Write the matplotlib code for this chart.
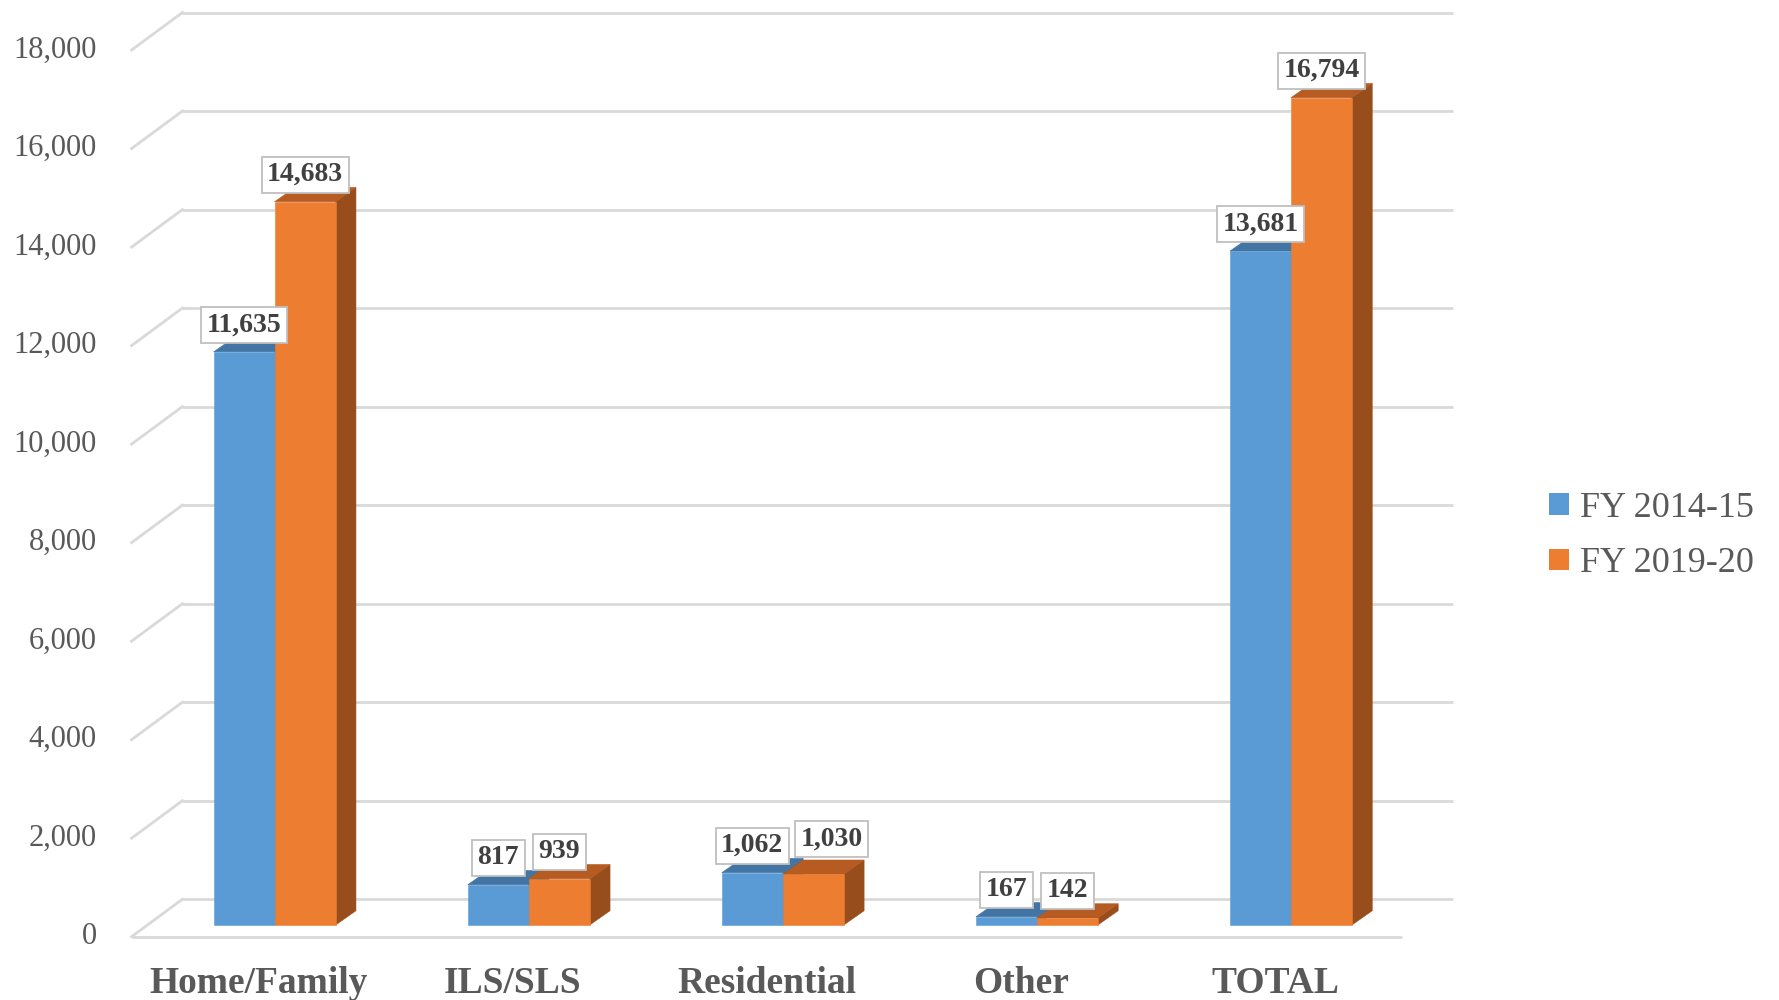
import matplotlib.pyplot as plt
from matplotlib.patches import Patch, Polygon

categories = ["Home/Family", "ILS/SLS", "Residential", "Other", "TOTAL"]
fy_2014_15 = [11635, 817, 1062, 167, 13681]
fy_2019_20 = [14683, 939, 1030, 142, 16794]
series_names = ["FY 2014-15", "FY 2019-20"]
y_ticks = list(range(0, 18001, 2000))

FRONT = ["#5B9BD5", "#ED7D31"]
TOP = ["#4275A3", "#B65C22"]
SIDE = ["#3D6C96", "#984D1C"]
GRID = "#D9D9D9"
TEXT = "#595959"
LABEL = "#404040"

# fake 3d: the floor goes back up-right, bars sit a bit behind the front edge
FLOOR_DX, FLOOR_DY = 0.2, 761
BAR_DX, BAR_DY = 0.063, 237
DEPTH_DX, DEPTH_DY = 0.08, 290
BAR_W = 0.24
LABEL_GAP = 550

plt.rcParams["font.family"] = ["Liberation Serif", "DejaVu Serif"]


def _bar3d(ax, x0, value, idx):
    x1 = x0 + BAR_W
    y0 = BAR_DY
    y1 = BAR_DY + value
    front = [(x0, y0), (x1, y0), (x1, y1), (x0, y1)]
    top = [(x0, y1), (x1, y1), (x1 + DEPTH_DX, y1 + DEPTH_DY), (x0 + DEPTH_DX, y1 + DEPTH_DY)]
    side = [(x1, y0), (x1 + DEPTH_DX, y0 + DEPTH_DY), (x1 + DEPTH_DX, y1 + DEPTH_DY), (x1, y1)]
    for pts, color in ((side, SIDE[idx]), (top, TOP[idx]), (front, FRONT[idx])):
        ax.add_patch(Polygon(pts, closed=True, facecolor=color, edgecolor=color, lw=0.4, zorder=2 + idx))
    return ax.text(
        x0 + BAR_W / 2,
        y1 + LABEL_GAP,
        f"{value:,}",
        ha="center",
        va="center",
        fontsize=20,
        fontweight="bold",
        color=LABEL,
        zorder=6,
        bbox=dict(boxstyle="square,pad=0.2", facecolor="white", edgecolor="#BFBFBF", linewidth=1.3),
    )


fig = plt.figure(figsize=(17.79, 10), dpi=100)
ax = fig.add_axes([0, 0, 1, 1])
ax.set_xlim(-1.018, 5.984)
ax.set_ylim(-1285, 19015)
ax.axis("off")

n = len(categories)
left, right = -0.5, n - 0.5

# walls: back gridlines plus the left diagonals, front floor edge
for v in y_ticks:
    ax.plot([left + FLOOR_DX, right + FLOOR_DX], [v + FLOOR_DY, v + FLOOR_DY], color=GRID, lw=2, zorder=1, solid_capstyle="butt")
    ax.plot([left, left + FLOOR_DX], [v, v + FLOOR_DY], color=GRID, lw=2, zorder=1)
    ax.text(left - 0.137, v, f"{v:,}", ha="right", va="center", fontsize=22, color=TEXT)
ax.plot([left, right], [0, 0], color=GRID, lw=2, zorder=1, solid_capstyle="butt")

label_pairs = []
for i, cat in enumerate(categories):
    a = _bar3d(ax, i + BAR_DX - BAR_W, fy_2014_15[i], 0)
    b = _bar3d(ax, i + BAR_DX, fy_2019_20[i], 1)
    label_pairs.append((a, b))
    ax.text(i, -1140, cat, ha="center", va="baseline", fontsize=27, fontweight="bold", color=TEXT)

# nudge a value box right/up when it runs into its neighbour (like Excel does)
fig.canvas.draw()
renderer = fig.canvas.get_renderer()
for a, b in label_pairs:
    ba = a.get_bbox_patch().get_window_extent(renderer)
    bb = b.get_bbox_patch().get_window_extent(renderer)
    overlap_x = ba.x1 - bb.x0
    overlap_y = min(ba.y1, bb.y1) - max(ba.y0, bb.y0)
    if overlap_x > -4 and overlap_y > 0:
        px, py = ax.transData.transform(b.get_position())
        b.set_position(ax.transData.inverted().transform((px + overlap_x + 6, py + 8)))

handles = [Patch(facecolor=FRONT[k], edgecolor="none", label=series_names[k]) for k in range(2)]
leg = fig.legend(
    handles=handles,
    loc="center left",
    bbox_to_anchor=(0.8707, 0.464),
    frameon=False,
    fontsize=26,
    handlelength=0.55,
    handleheight=0.55,
    handletextpad=0.3,
    labelspacing=0.62,
    borderpad=0,
    borderaxespad=0,
)
for t in leg.get_texts():
    t.set_color(TEXT)

fig.savefig("out.png", dpi=100)
